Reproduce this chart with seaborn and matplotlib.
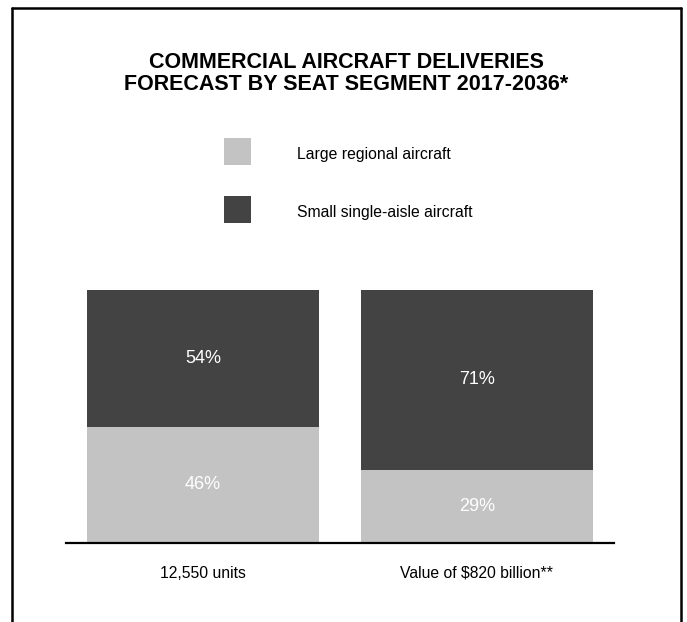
import matplotlib
matplotlib.use("Agg")
import matplotlib.pyplot as plt
import seaborn as sns
import pandas as pd
from matplotlib.patches import Rectangle
from matplotlib.lines import Line2D

categories = ["12,550 units", "Value of $820 billion**"]
large_regional = [46, 29]
small_single_aisle = [54, 71]
series_names = ["Large regional aircraft", "Small single-aisle aircraft"]
title_lines = ["COMMERCIAL AIRCRAFT DELIVERIES", "FORECAST BY SEAT SEGMENT 2017-2036*"]

LIGHT = "#c3c3c3"
DARK = "#434343"

sns.set_theme(style="white")
plt.rcParams["font.family"] = ["Liberation Sans", "DejaVu Sans"]

W, H = 687, 622
fig = plt.figure(figsize=(W / 100, H / 100), dpi=100)

def fy(ypix):
    return 1 - ypix / H

# axes placed in pixel coordinates: x 66..614, y(top-down) 290..543
left, right, top, bottom = 66, 614, 290, 543
ax = fig.add_axes([left / W, fy(bottom), (right - left) / W, (bottom - top) / H])

df = pd.DataFrame({
    "category": categories,
    "large": large_regional,
    "small": small_single_aisle,
})
df["total"] = df["large"] + df["small"]

sns.barplot(data=df, x="category", y="total", order=categories, color=DARK,
            width=0.85, saturation=1, ax=ax, edgecolor="none", linewidth=0)
sns.barplot(data=df, x="category", y="large", order=categories, color=LIGHT,
            width=0.85, saturation=1, ax=ax, edgecolor="none", linewidth=0)

ax.set_xlim(-0.5, 1.5)
ax.set_ylim(0, 100)
ax.set_xlabel("")
ax.set_ylabel("")
ax.set_yticks([])
ax.set_xticks([])
for s in ["top", "right", "left"]:
    ax.spines[s].set_visible(False)
ax.spines["bottom"].set_color("black")
ax.spines["bottom"].set_linewidth(1.6)

# percentage labels
for i, (lg, sm) in enumerate(zip(large_regional, small_single_aisle)):
    ax.text(i, lg / 2, f"{lg}%", ha="center", va="center", color="white", fontsize=13)
    ax.text(i, lg + sm / 2, f"{sm}%", ha="center", va="center", color="white", fontsize=13)

# category labels
for i, c in enumerate(categories):
    ax.text(i, -(577.5 - bottom) / (bottom - top) * 100, c, ha="center", va="baseline",
            color="black", fontsize=11.3)

# title
for line, base in zip(title_lines, [68, 90]):
    fig.text(346 / W, fy(base), line, ha="center", va="baseline", fontsize=15.5,
             fontweight="bold", color="black")

# legend (manual)
for (y0, base, name, col) in [(138, 159.5, series_names[0], LIGHT),
                              (196, 217, series_names[1], DARK)]:
    fig.patches.append(Rectangle((224 / W, fy(y0 + 27)), 27 / W, 27 / H,
                                 transform=fig.transFigure, facecolor=col,
                                 edgecolor="none", figure=fig))
    fig.text(297 / W, fy(base), name, ha="left", va="baseline",
             fontsize=11.3, color="black")

# frame
lw = 1.8
fig.add_artist(Line2D([12 / W, 12 / W], [0, fy(8)], color="black", lw=lw, transform=fig.transFigure))
fig.add_artist(Line2D([681 / W, 681 / W], [0, fy(8)], color="black", lw=lw, transform=fig.transFigure))
fig.add_artist(Line2D([12 / W, 681 / W], [fy(8), fy(8)], color="black", lw=lw, transform=fig.transFigure))

fig.savefig("out.png", dpi=100, facecolor="white")
